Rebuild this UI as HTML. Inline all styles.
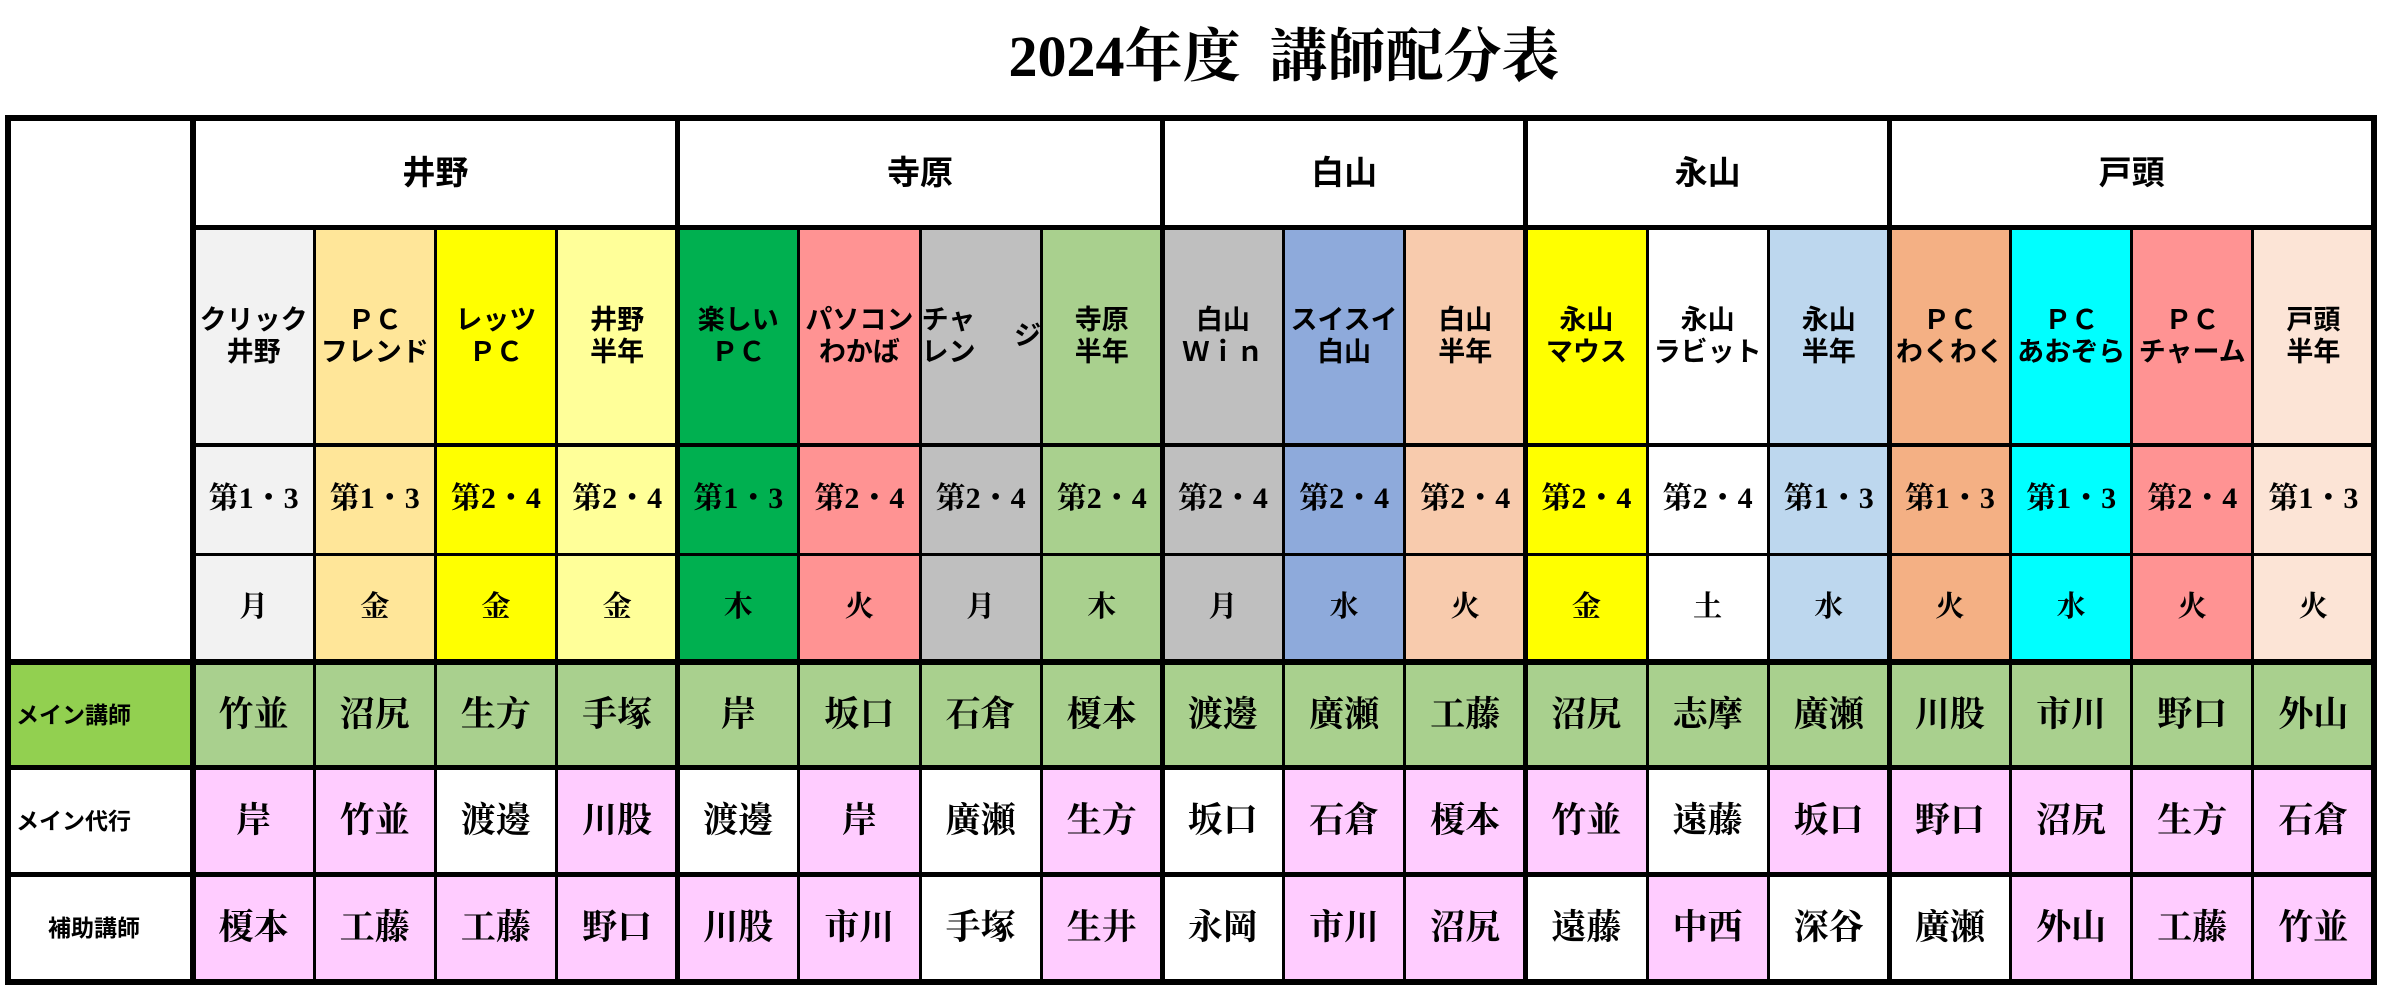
<!DOCTYPE html>
<html><head><meta charset="utf-8">
<style>
body{margin:0;width:2382px;height:992px;background:#fff;position:relative;overflow:hidden}
.c{position:absolute;display:flex;align-items:center;justify-content:center;text-align:center;box-sizing:border-box;color:#000}
.sans{font-family:"Liberation Sans","Noto Sans CJK JP",sans-serif;font-weight:bold}
.serif{font-family:"Liberation Serif","Noto Serif CJK SC",serif;font-weight:bold}
.ln{position:absolute;background:#000}
#title{position:absolute;left:0;width:2568px;top:22px;text-align:center;font-size:58px;font-family:"Liberation Serif","Noto Serif CJK SC",serif;font-weight:bold;line-height:70px}
</style></head>
<body>
<div id="title">2024年度&nbsp;&nbsp;講師配分表</div>
<div id="grid"></div>
<script>
const groups=["井野","寺原","白山","永山","戸頭"];
const groupSpans=[4,4,3,3,4];
const classes=["クリック<br>井野","ＰＣ<br>フレンド","レッツ<br>ＰＣ","井野<br>半年","楽しい<br>ＰＣ","パソコン<br>わかば","チャレン<br><span style='display:block;text-align:right;width:100%'>ジ</span>","寺原<br>半年","白山<br>Ｗｉｎ","スイスイ<br>白山","白山<br>半年","永山<br>マウス","永山<br>ラビット","永山<br>半年","ＰＣ<br>わくわく","ＰＣ<br>あおぞら","ＰＣ<br>チャーム","戸頭<br>半年"];
const weeks=["第1・3","第1・3","第2・4","第2・4","第1・3","第2・4","第2・4","第2・4","第2・4","第2・4","第2・4","第2・4","第2・4","第1・3","第1・3","第1・3","第2・4","第1・3"];
const days=["月","金","金","金","木","火","月","木","月","水","火","金","土","水","火","水","火","火"];
const colors=["#f2f2f2","#ffe699","#ffff00","#ffff99","#00b050","#ff9393","#bfbfbf","#a9d08e","#bfbfbf","#8eaadb","#f8cbad","#ffff00","#ffffff","#bdd7ee","#f4b084","#00ffff","#ff9393","#fce4d6"];
const mainT=["竹並","沼尻","生方","手塚","岸","坂口","石倉","榎本","渡邊","廣瀬","工藤","沼尻","志摩","廣瀬","川股","市川","野口","外山"];
const subT=["岸","竹並","渡邊","川股","渡邊","岸","廣瀬","生方","坂口","石倉","榎本","竹並","遠藤","坂口","野口","沼尻","生方","石倉"];
const subPink=[1,1,0,1,0,1,0,1,0,1,1,1,0,1,1,1,1,1];
const asstT=["榎本","工藤","工藤","野口","川股","市川","手塚","生井","永岡","市川","沼尻","遠藤","中西","深谷","廣瀬","外山","工藤","竹並"];
const asstPink=[1,1,1,1,1,1,0,1,0,1,1,0,1,0,0,1,1,1];

const L=8,X0=193,R=2374,CW=(R-X0)/18;
const Y=[118,228,445,554,662,768,875,982];
const body=document.body;
function cell(x,y,w,h,html,cls,bg,fs,name){
  const d=document.createElement('div');
  d.className='c '+cls;
  d.style.cssText=`left:${x}px;top:${y}px;width:${w}px;height:${h}px;background:${bg};font-size:${fs}px;line-height:1.15`;
  d.innerHTML=html;
  
  
  body.appendChild(d);return d;
}
function line(x,y,w,h){
  const d=document.createElement('div');d.className='ln';
  d.style.cssText=`left:${x}px;top:${y}px;width:${w}px;height:${h}px`;
  
  
  body.appendChild(d);
}
// group headers
let ci=0;
groups.forEach((g,i)=>{
  cell(X0+ci*CW,Y[0],groupSpans[i]*CW,Y[1]-Y[0],g,'sans','#fff',33,'group-header');
  ci+=groupSpans[i];
});
for(let i=0;i<18;i++){
  const x=X0+i*CW;
  cell(x,Y[1],CW,Y[2]-Y[1],classes[i],'sans',colors[i],27,'class-name');
  cell(x,Y[2],CW,Y[3]-Y[2],weeks[i],'serif',colors[i],30,'week-schedule');
  cell(x,Y[3],CW,Y[4]-Y[3],days[i],'serif',colors[i],29,'weekday');
  cell(x,Y[4],CW,Y[5]-Y[4],mainT[i],'serif','#a9d08e',35,'main-instructor');
  cell(x,Y[5],CW,Y[6]-Y[5],subT[i],'serif',subPink[i]?'#ffccff':'#fff',35,'substitute-instructor');
  cell(x,Y[6],CW,Y[7]-Y[6],asstT[i],'serif',asstPink[i]?'#ffccff':'#fff',35,'assistant-instructor');
}
const l1=cell(L,Y[4],X0-L,Y[5]-Y[4],'メイン講師','sans','#92d050',23,'row-label-main');
l1.style.justifyContent='flex-start';l1.style.paddingLeft='8px';
const l2=cell(L,Y[5],X0-L,Y[6]-Y[5],'メイン代行','sans','#fff',23,'row-label-substitute');
l2.style.justifyContent='flex-start';l2.style.paddingLeft='8px';
const l3=cell(L,Y[6],X0-L,Y[7]-Y[6],'補助講師','sans','#fff',23,'row-label-assistant');
l3.style.justifyContent='flex-start';l3.style.paddingLeft='40px';
// lines
line(L-3,Y[0]-3,R-L+6,6);
line(L-3,Y[7]-3,R-L+6,6);
line(L-3,Y[0]-3,6,Y[7]-Y[0]+6);
line(R-3,Y[0]-3,6,Y[7]-Y[0]+6);
line(X0-3,Y[0],6,Y[7]-Y[0]);
line(X0,Y[1]-3,R-X0,5);
line(X0,Y[2]-2,R-X0,4);
line(X0,Y[3]-1.5,R-X0,3);
line(L,Y[4]-3,R-L,6);
line(L,Y[5]-3,R-L,5);
line(L,Y[6]-3,R-L,5);
let acc=0;const gEnds=[];groupSpans.forEach(s=>{acc+=s;gEnds.push(acc)});
for(let i=1;i<18;i++){
  const x=X0+i*CW;
  if(gEnds.includes(i)) line(x-2.5,Y[0],5,Y[7]-Y[0]);
  else line(x-1.5,Y[1],3,Y[7]-Y[1]);
}
</script>
</body></html>
